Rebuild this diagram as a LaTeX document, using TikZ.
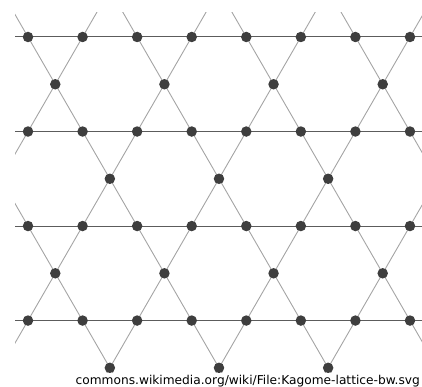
\documentclass[tikz,border=0pt]{standalone}
\usepackage{fontspec}
\usepackage{tikz}
\newfontfamily\creditfont{DejaVu Sans}
\definecolor{dotgray}{HTML}{3E3E3E}
\definecolor{rowgray}{HTML}{5C5C5C}
\definecolor{slantgray}{HTML}{A4A4A4}

\begin{document}
\begin{tikzpicture}[x=1pt,y=-1pt,
    dot/.style={circle,fill=dotgray,inner sep=0pt,minimum size=10.5pt},
    rowline/.style={draw=rowgray,line width=1pt},
    slantline/.style={draw=slantgray,line width=0.9pt}]
  \useasboundingbox (0,0) rectangle (422,387);
  \def\ea{54.57}
  \def\eh{47.26}
  \def\xo{28}
  \def\yo{37}
  % lattice lines, cut to the frame
  \begin{scope}
    \clip (15,13) rectangle (422,387);
    \foreach \k in {0,...,3}
      \draw[rowline] (0,{\yo+2*\k*\eh}) -- (422,{\yo+2*\k*\eh});
    \foreach \m in {-2,...,4}
      \draw[slantline] ({\xo+2*(\m)*\ea-\ea/2},{\yo-\eh}) -- ++({4.5*\ea},{9*\eh});
    \foreach \m in {0,...,7}
      \draw[slantline] ({\xo+(2*\m+1)*\ea+\ea/2},{\yo-\eh}) -- ++({-4.5*\ea},{9*\eh});
  \end{scope}
  % sites on the horizontal lines
  \foreach \k in {0,...,3}
    \foreach \n in {0,...,7}
      \node[dot] (h-\k-\n) at ({\xo+\n*\ea},{\yo+2*\k*\eh}) {};
  % sites between them
  \foreach \k/\s/\last in {0/0.5/3,1/1.5/2,2/0.5/3,3/1.5/2}
    \foreach \n in {0,...,\last}
      \node[dot] (m-\k-\n) at ({\xo+(\s+2*\n)*\ea},{\yo+(2*\k+1)*\eh}) {};
  \node[anchor=base east,inner xsep=1pt,inner ysep=1.5pt,fill=white,text=black,
    font=\creditfont\fontsize{12.2}{14}\selectfont] (credit) at (421,384)
    {commons.wikimedia.org/wiki/File:Kagome-lattice-bw.svg};
\end{tikzpicture}
\end{document}
